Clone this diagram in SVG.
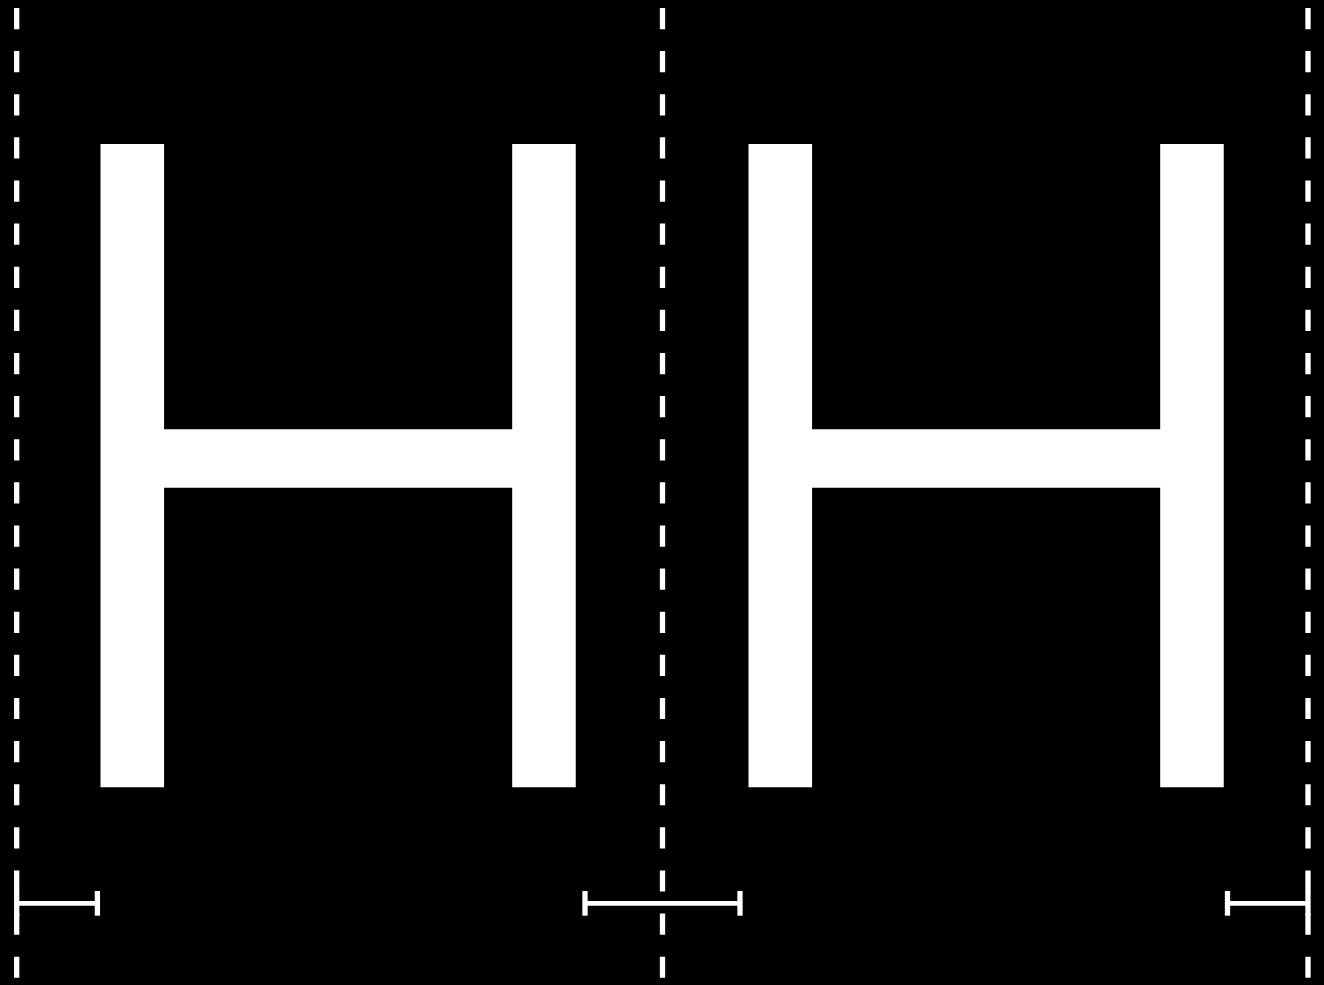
<svg xmlns="http://www.w3.org/2000/svg" width="1324" height="985" viewBox="0 0 1324 985">
<style>
.glyph{font-family:Inter,"Noto Sans",sans-serif;font-size:878.8px;font-weight:300;fill:#fff;stroke:#fff;stroke-width:4;stroke-linejoin:miter}
.guide{stroke:#fff;stroke-width:5.3;stroke-dasharray:21.2 21.92;fill:none}
.meas{stroke:#fff;stroke-width:4.7;fill:none}
.tick{stroke:#fff;stroke-width:5.3;fill:none}
</style>
<rect width="1324" height="985" fill="#000"/>
<g id="glyph1" transform="translate(19.7,0) scale(0.979,1)">
<text class="glyph" x="0" y="785.3">H</text>
</g>
<g id="glyph2" transform="translate(667.7,0) scale(0.979,1)">
<text class="glyph" x="0" y="785.3">H</text>
</g>
<g id="connectors">
<line class="guide" x1="16.7" y1="8" x2="16.7" y2="985"/>
<line class="guide" x1="662.5" y1="8" x2="662.5" y2="985"/>
<line class="guide" x1="1308" y1="8" x2="1308" y2="985"/>
<line class="meas" x1="16.7" y1="903.3" x2="97.4" y2="903.3"/>
<line class="tick" x1="16.7" y1="891" x2="16.7" y2="915.7"/>
<line class="tick" x1="97.4" y1="891" x2="97.4" y2="915.7"/>
<line class="meas" x1="585" y1="903.3" x2="740" y2="903.3"/>
<line class="tick" x1="585" y1="891" x2="585" y2="915.7"/>
<line class="tick" x1="740" y1="891" x2="740" y2="915.7"/>
<line class="meas" x1="1227.5" y1="903.3" x2="1308" y2="903.3"/>
<line class="tick" x1="1227.5" y1="891" x2="1227.5" y2="915.7"/>
<line class="tick" x1="1308" y1="891" x2="1308" y2="915.7"/>
</g>
</svg>
